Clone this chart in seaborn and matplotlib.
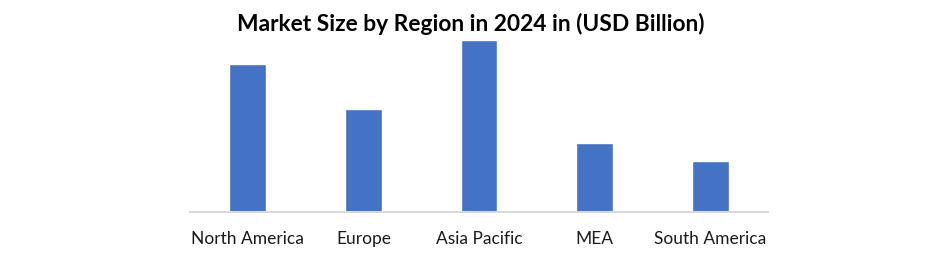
import matplotlib
matplotlib.use("Agg")
import matplotlib.pyplot as plt
import seaborn as sns
import pandas as pd

regions = ["North America", "Europe", "Asia Pacific", "MEA", "South America"]
values = [14.8, 10.3, 17.2, 6.9, 5.1]
title = "Market Size by Region in 2024 in (USD Billion)"

sns.set_theme(style="white")
plt.rcParams["font.family"] = ["Lato", "DejaVu Sans"]

df = pd.DataFrame({"Region": regions, "Value": values})

fig = plt.figure(figsize=(9.4, 2.55), dpi=100)
ax = fig.add_axes([190/940, 1 - 213/255, 578/940, (213 - 35)/255])
sns.barplot(data=df, x="Region", y="Value", color="#4472C4", width=0.32,
            saturation=1, ax=ax)
ax.set_ylim(0, 17.2 * (213 - 35) / 172)
ax.set_xlim(-0.5, 4.5)
ax.set_xlabel("")
ax.set_ylabel("")
ax.set_yticks([])
for s in ["top", "right", "left"]:
    ax.spines[s].set_visible(False)
ax.spines["bottom"].set_color("#d9d9d9")
ax.spines["bottom"].set_linewidth(1.5)
ax.tick_params(axis="x", length=0, pad=13, labelsize=12.5, labelcolor="#1a1a1a")
fig.text(471/940, 1 - 24/255, title, ha="center", va="center",
         fontsize=16.4, fontweight="bold", color="black")
fig.savefig("out.png", dpi=100, facecolor="white")
